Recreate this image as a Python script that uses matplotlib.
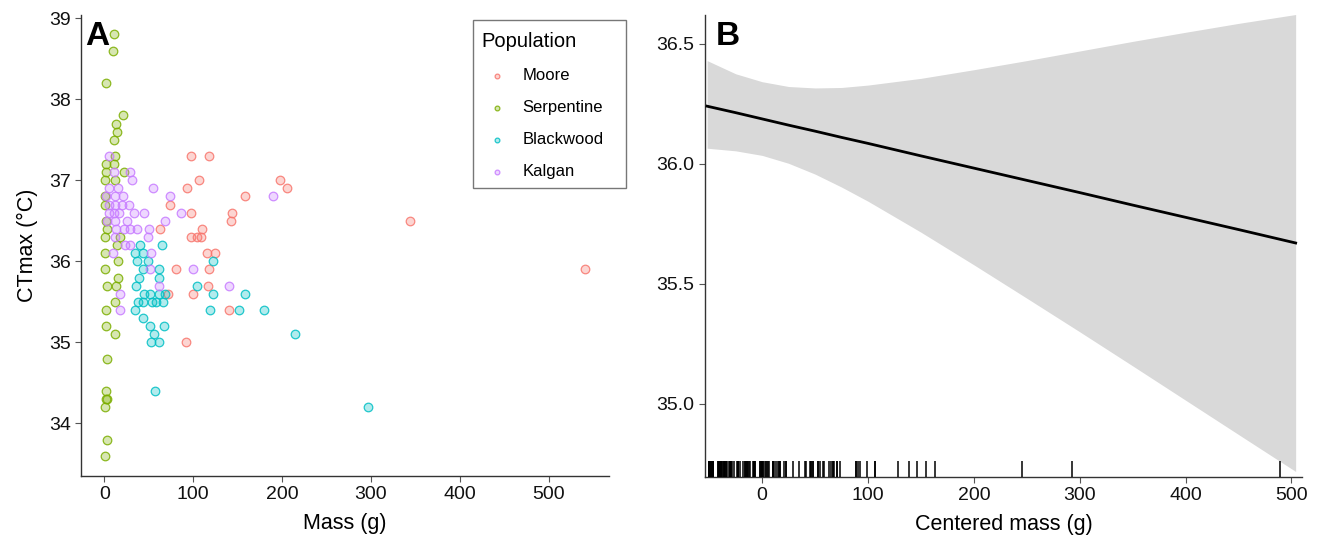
"""Two-panel CTmax figure: raw points by population and fitted mass effect."""

import matplotlib.colors as mcolors
import matplotlib.patches as patches
import matplotlib.pyplot as plt
import matplotlib.transforms as mtransforms
import numpy as np

plt.rcParams['font.family'] = ['Liberation Sans', 'DejaVu Sans']

POPULATIONS = ['Moore', 'Serpentine', 'Blackwood', 'Kalgan']
COLORS = ['#F8766D', '#7CAE00', '#00BFC4', '#C77CFF']

MOORE_MASS = [98, 118, 106, 198, 93, 206, 158, 74, 97, 144, 142, 344, 63, 110,
              98, 104, 109, 115, 125, 81, 118, 117, 72, 100, 140, 92, 541]
MOORE_CT = [37.3, 37.3, 37.0, 37.0, 36.9, 36.9, 36.8, 36.7, 36.6, 36.6, 36.5,
            36.5, 36.4, 36.4, 36.3, 36.3, 36.3, 36.1, 36.1, 35.9, 35.9, 35.7,
            35.6, 35.6, 35.4, 35.0, 35.9]

SERP_MASS = [11, 10, 2, 21, 13, 14, 11, 12, 2, 11, 2, 22, 1, 12, 1, 1, 2, 3, 1,
             17, 14, 1, 15, 1, 15, 3, 13, 12, 2, 2, 12, 3, 2, 2, 3, 1, 3, 1]
SERP_CT = [38.8, 38.6, 38.2, 37.8, 37.7, 37.6, 37.5, 37.3, 37.2, 37.2, 37.1,
           37.1, 37.0, 37.0, 36.8, 36.7, 36.5, 36.4, 36.3, 36.3, 36.2, 36.1,
           36.0, 35.9, 35.8, 35.7, 35.7, 35.5, 35.4, 35.2, 35.1, 34.8, 34.4,
           34.3, 34.3, 34.2, 33.8, 33.6]

BLACK_MASS = [65, 40, 35, 44, 37, 49, 122, 44, 62, 39, 62, 36, 104, 45, 51, 62,
              68, 122, 158, 38, 44, 54, 58, 66, 35, 119, 151, 180, 43, 51, 67,
              56, 215, 52, 62, 57, 297]
BLACK_CT = [36.2, 36.2, 36.1, 36.1, 36.0, 36.0, 36.0, 35.9, 35.9, 35.8, 35.8,
            35.7, 35.7, 35.6, 35.6, 35.6, 35.6, 35.6, 35.6, 35.5, 35.5, 35.5,
            35.5, 35.5, 35.4, 35.4, 35.4, 35.4, 35.3, 35.2, 35.2, 35.1, 35.1,
            35.0, 35.0, 34.4, 34.2]

KALGAN_MASS = [5, 11, 29, 31, 5, 15, 55, 2, 12, 21, 74, 190, 5, 12, 20, 28, 5,
               11, 16, 33, 45, 86, 3, 12, 25, 68, 13, 22, 29, 37, 50, 12, 49,
               23, 29, 10, 52, 51, 100, 62, 140, 18, 17]
KALGAN_CT = [37.3, 37.1, 37.1, 37.0, 36.9, 36.9, 36.9, 36.8, 36.8, 36.8, 36.8,
             36.8, 36.7, 36.7, 36.7, 36.7, 36.6, 36.6, 36.6, 36.6, 36.6, 36.6,
             36.5, 36.5, 36.5, 36.5, 36.4, 36.4, 36.4, 36.4, 36.4, 36.3, 36.3,
             36.2, 36.2, 36.1, 36.1, 35.9, 35.9, 35.7, 35.7, 35.6, 35.4]

# mean mass subtracted for panel B (read from rug offsets)
MASS_CENTER = 51.5

# fitted line and confidence band
FIT_X = [-52, -25, 0, 25, 50, 75, 100, 150, 200, 250, 300, 350, 400, 450, 504]
FIT_Y = [36.24, 36.213, 36.187, 36.161, 36.136, 36.110, 36.085, 36.033, 35.982,
         35.931, 35.880, 35.828, 35.777, 35.726, 35.670]
FIT_UPPER = [36.43, 36.375, 36.342, 36.322, 36.316, 36.318, 36.328, 36.356,
             36.392, 36.430, 36.470, 36.510, 36.548, 36.585, 36.622]
FIT_LOWER = [36.065, 36.054, 36.035, 36.002, 35.957, 35.903, 35.844, 35.715,
             35.579, 35.440, 35.300, 35.158, 35.015, 34.872, 34.718]

W, H = 1328, 539
fig = plt.figure(figsize=(W / 100, H / 100), dpi=100)
ax_a = fig.add_axes([81.3 / W, 1 - 476 / H, (609 - 81.3) / W, 461 / H])
ax_b = fig.add_axes([705 / W, 1 - 476.5 / H, (1302 - 705) / W, 461.5 / H])

for ax in (ax_a, ax_b):
    for side in ('top', 'right'):
        ax.spines[side].set_visible(False)
    for side in ('left', 'bottom'):
        ax.spines[side].set_color('#333333')
        ax.spines[side].set_linewidth(1.0)
    ax.tick_params(direction='out', length=4, width=0.8, color='#555555',
                   labelsize=14, labelcolor='#111111')

# Panel A
groups = [
    (MOORE_MASS, MOORE_CT),
    (SERP_MASS, SERP_CT),
    (BLACK_MASS, BLACK_CT),
    (KALGAN_MASS, KALGAN_CT),
]
for (mass, ct), name, color in zip(groups, POPULATIONS, COLORS):
    ax_a.scatter(mass, ct, s=38, facecolor=mcolors.to_rgba(color, 0.3),
                 edgecolor=mcolors.to_rgba(color, 0.85), linewidth=0.9,
                 zorder=3, label=name)

ax_a.set_xlim(-26, 568)
ax_a.set_ylim(33.35, 39.04)
ax_a.set_xticks([0, 100, 200, 300, 400, 500])
ax_a.set_yticks([34, 35, 36, 37, 38, 39])
ax_a.set_xlabel('Mass (g)', fontsize=15.5, labelpad=7)
ax_a.set_ylabel('CTmax (°C)', fontsize=15.5, labelpad=8)
ax_a.text(0.008, 0.988, 'A', transform=ax_a.transAxes, fontsize=24,
          fontweight='bold', va='top', ha='left')

# legend frame is drawn by hand so it can be wider than its contents
frame = patches.Rectangle((473.3 / W, 1 - 188.3 / H), (626 - 473.3) / W,
                          168.3 / H, transform=fig.transFigure,
                          facecolor='white', edgecolor='#777777',
                          linewidth=1.0, zorder=5)
fig.add_artist(frame)
handles, labels = ax_a.get_legend_handles_labels()
leg = fig.legend(
    handles, labels, title='Population', loc='upper left',
    bbox_to_anchor=(473.3 / W, 1 - 24 / H), bbox_transform=fig.transFigure,
    fontsize=12, title_fontsize=14.5, frameon=False, markerscale=0.55,
    labelspacing=1.02, handlelength=1.88, handletextpad=0.58, borderpad=0.5,
    alignment='left', borderaxespad=0,
)
leg.set_zorder(6)

# Panel B
ax_b.fill_between(FIT_X, FIT_LOWER, FIT_UPPER, color='#D9D9D9', linewidth=0,
                  zorder=1)
ax_b.plot(FIT_X, FIT_Y, color='black', linewidth=2.0, zorder=3)

all_mass = np.array(MOORE_MASS + SERP_MASS + BLACK_MASS + KALGAN_MASS, float)
centered = all_mass - MASS_CENTER
rug_trans = mtransforms.blended_transform_factory(ax_b.transData,
                                                  ax_b.transAxes)
ax_b.vlines(centered, 0, 0.033, transform=rug_trans, color='black',
            linewidth=1.1, zorder=4)

ax_b.set_xlim(-54, 510)
ax_b.set_ylim(34.697, 36.62)
ax_b.set_xticks([0, 100, 200, 300, 400, 500])
ax_b.set_yticks([35.0, 35.5, 36.0, 36.5])
ax_b.set_yticklabels(['35.0', '35.5', '36.0', '36.5'])
ax_b.set_xlabel('Centered mass (g)', fontsize=15.5, labelpad=7)
ax_b.text(0.018, 0.988, 'B', transform=ax_b.transAxes, fontsize=24,
          fontweight='bold', va='top', ha='left')

fig.savefig('out.png', dpi=100)
